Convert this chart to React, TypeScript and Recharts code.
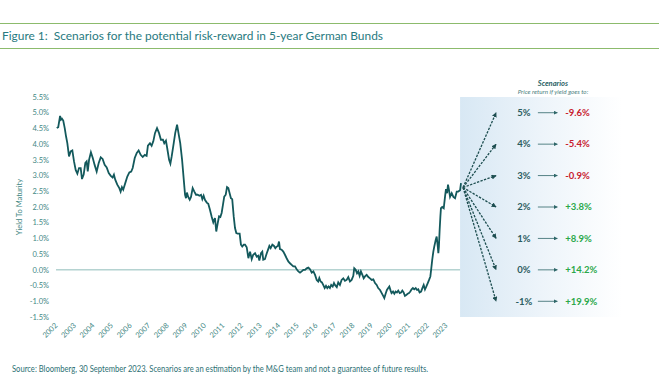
import React from 'react';
import { LineChart, Line, XAxis, YAxis, ReferenceLine, ReferenceArea, ReferenceDot } from 'recharts';

// ---- data ----
const yieldDates = [
  2002.04, 2002.12, 2002.22, 2002.27, 2002.32, 2002.39, 2002.47, 2002.54, 2002.61, 2002.70, 2002.79, 2002.88, 2002.97,
  2003.06, 2003.15, 2003.24, 2003.33, 2003.40, 2003.49, 2003.58, 2003.65, 2003.71, 2003.78, 2003.88, 2003.98,
  2004.08, 2004.19, 2004.30, 2004.41, 2004.51, 2004.62, 2004.73, 2004.84, 2004.95,
  2005.05, 2005.12, 2005.19, 2005.30, 2005.41, 2005.48, 2005.55, 2005.62, 2005.73, 2005.84, 2005.95,
  2006.05, 2006.13, 2006.24, 2006.35, 2006.45, 2006.56, 2006.67, 2006.78, 2006.88, 2006.95,
  2007.06, 2007.15, 2007.24, 2007.33, 2007.44, 2007.55, 2007.65, 2007.76, 2007.83, 2007.92, 2007.99,
  2008.09, 2008.16, 2008.23, 2008.34, 2008.42, 2008.52, 2008.61, 2008.69, 2008.79, 2008.88, 2008.95,
  2009.00, 2009.05, 2009.12, 2009.20, 2009.27, 2009.36, 2009.45, 2009.54, 2009.63, 2009.72, 2009.81, 2009.88, 2009.95,
  2010.02, 2010.12, 2010.20, 2010.29, 2010.38, 2010.47, 2010.56, 2010.63, 2010.71, 2010.78, 2010.85, 2010.92, 2010.99,
  2011.06, 2011.14, 2011.21, 2011.28, 2011.35, 2011.42, 2011.49, 2011.57, 2011.64, 2011.71, 2011.78, 2011.89, 2011.96,
  2012.03, 2012.11, 2012.18, 2012.27, 2012.36, 2012.45, 2012.54, 2012.62, 2012.72, 2012.81, 2012.89, 2012.95,
  2013.04, 2013.11, 2013.16, 2013.25, 2013.35, 2013.43, 2013.49, 2013.56, 2013.65, 2013.74, 2013.81, 2013.88, 2013.95,
  2014.01, 2014.06, 2014.15, 2014.24, 2014.33, 2014.42, 2014.51, 2014.60, 2014.69, 2014.78, 2014.87, 2014.96,
  2015.05, 2015.14, 2015.23, 2015.32, 2015.41, 2015.50, 2015.59, 2015.68, 2015.77, 2015.86, 2015.95,
  2016.04, 2016.12, 2016.18, 2016.25, 2016.32, 2016.39, 2016.47, 2016.54, 2016.61, 2016.68, 2016.75, 2016.82, 2016.90, 2016.97,
  2017.02, 2017.12, 2017.20, 2017.29, 2017.38, 2017.47, 2017.56, 2017.65, 2017.74, 2017.83, 2017.92,
  2018.01, 2018.06, 2018.14, 2018.21, 2018.28, 2018.35, 2018.42, 2018.50, 2018.57, 2018.64, 2018.73, 2018.82, 2018.91,
  2019.00, 2019.09, 2019.18, 2019.27, 2019.35, 2019.45, 2019.54, 2019.62, 2019.68, 2019.75, 2019.82, 2019.89, 2019.95,
  2020.02, 2020.07, 2020.15, 2020.22, 2020.29, 2020.36, 2020.43, 2020.51, 2020.58, 2020.65, 2020.72, 2020.79, 2020.86, 2020.94,
  2021.01, 2021.08, 2021.15, 2021.22, 2021.29, 2021.37, 2021.44, 2021.51, 2021.58, 2021.66, 2021.73, 2021.80, 2021.87, 2021.94,
  2022.02, 2022.09, 2022.16, 2022.21, 2022.26, 2022.32, 2022.37, 2022.45, 2022.50, 2022.56, 2022.59, 2022.62, 2022.66, 2022.70,
  2022.73, 2022.80, 2022.88, 2022.95,
  2023.00, 2023.06, 2023.11, 2023.16, 2023.22, 2023.31, 2023.40, 2023.49, 2023.58, 2023.66, 2023.76, 2023.81,
];

const yieldValues = [
  4.51, 4.54, 4.90, 4.78, 4.81, 4.75, 4.51, 4.25, 4.03, 3.61, 3.77, 3.80, 3.45,
  3.18, 3.06, 3.24, 3.24, 2.89, 3.03, 3.40, 3.45, 3.13, 3.50, 3.74, 3.56,
  3.34, 3.13, 3.40, 3.58, 3.53, 3.34, 3.26, 3.08, 2.99,
  2.94, 3.03, 2.87, 2.71, 2.60, 2.49, 2.63, 2.55, 2.76, 2.97, 3.10,
  3.13, 3.24, 3.56, 3.72, 3.80, 3.66, 3.59, 3.66, 3.63, 3.95,
  4.03, 3.95, 4.09, 4.35, 4.51, 4.35, 4.14, 4.14, 4.03, 4.11, 3.87,
  3.50, 3.38, 3.61, 4.03, 4.35, 4.62, 4.30, 4.03, 3.50, 2.87, 2.39,
  2.28, 2.46, 2.32, 2.23, 2.32, 2.60, 2.49, 2.39, 2.39, 2.36, 2.39, 2.25, 2.36,
  2.23, 2.14, 2.10, 1.91, 1.70, 1.51, 1.65, 1.22, 1.49, 1.70, 1.68, 1.81, 2.07,
  2.33, 2.39, 2.63, 2.60, 2.44, 2.28, 2.25, 1.70, 1.33, 1.17, 1.15, 1.15, 0.80,
  0.74, 0.80, 0.80, 0.72, 0.37, 0.58, 0.34, 0.48, 0.53, 0.42, 0.45, 0.30,
  0.53, 0.58, 0.32, 0.34, 0.53, 0.66, 0.76, 0.69, 0.80, 0.76, 0.69, 0.74, 0.76,
  0.90, 0.66, 0.64, 0.58, 0.48, 0.37, 0.27, 0.21, 0.16, 0.11, 0.11, 0.02,
  -0.05, -0.09, -0.05, 0.00, 0.00, 0.05, 0.07, 0.02, -0.09, -0.05, -0.16,
  -0.32, -0.37, -0.26, -0.37, -0.40, -0.48, -0.58, -0.51, -0.58, -0.53, -0.58, -0.48, -0.53, -0.42,
  -0.48, -0.55, -0.40, -0.48, -0.32, -0.27, -0.35, -0.32, -0.23, -0.37, -0.32,
  -0.19, 0.05, 0.00, -0.11, -0.05, -0.19, -0.05, -0.16, -0.27, -0.21, -0.16, -0.23, -0.27,
  -0.32, -0.30, -0.42, -0.48, -0.58, -0.64, -0.74, -0.83, -0.90, -0.76, -0.64, -0.58, -0.53,
  -0.66, -0.74, -0.69, -0.76, -0.69, -0.72, -0.66, -0.74, -0.72, -0.66, -0.72, -0.83, -0.80, -0.76,
  -0.74, -0.69, -0.62, -0.58, -0.62, -0.58, -0.64, -0.62, -0.72, -0.69, -0.58, -0.48, -0.62, -0.53,
  -0.42, -0.32, -0.21, 0.05, 0.32, 0.58, 0.74, 0.96, 1.06, 0.74, 0.53, 0.74, 1.27, 1.70,
  1.96, 2.00, 1.96, 2.33,
  2.57, 2.44, 2.71, 2.55, 2.32, 2.44, 2.32, 2.28, 2.49, 2.49, 2.53, 2.76,
];

const yearTicks = [
  2002, 2003, 2004, 2005, 2006, 2007, 2008, 2009, 2010, 2011, 2012,
  2013, 2014, 2015, 2016, 2017, 2018, 2019, 2020, 2021, 2022, 2023,
];
const yTicks = [-1.5, -1, -0.5, 0, 0.5, 1, 1.5, 2, 2.5, 3, 3.5, 4, 4.5, 5, 5.5];

const scenarioYields = [5, 4, 3, 2, 1, 0, -1];
const scenarioReturns = [-9.6, -5.4, -0.9, 3.8, 8.9, 14.2, 19.9];

const data = yieldDates.map((t, i) => ({ t, y: yieldValues[i] }));

// ---- layout (axis units) ----
const X_MIN = 2002;
const X_MAX = 2032.48;
const PANEL_START = 2023.76;
const ORIGIN_X = 2023.92;
const ORIGIN_Y = 2.62;
const ARROW_END_X = 2025.7;
const LABEL_X = 2027.2;
const SMALL_FROM = 2027.95;
const SMALL_TO = 2029.0;
const VALUE_X = 2029.42;
const PANEL_TITLE_X = 2028.76;

const FONT = 'Lato, "Open Sans", sans-serif';
const TEAL = '#3f8784';
const LINE = '#13595c';

const fmtPct = (v: number) => `${v.toFixed(1)}%`;
const fmtRet = (v: number) => `${v > 0 ? '+' : ''}${v.toFixed(1)}%`;

const XTick = (props: any) => {
  const { x, y, payload } = props;
  const ax = x + 2;
  const ay = y + 9;
  return (
    <text
      x={ax}
      y={ay}
      transform={`rotate(-45 ${ax} ${ay})`}
      textAnchor="end"
      fontSize={7.5}
      fill={TEAL}
      fontFamily={FONT}
    >
      {payload.value}
    </text>
  );
};

const YTick = (props: any) => {
  const { x, y, payload } = props;
  return (
    <text x={x} y={y} dy={2.7} textAnchor="end" fontSize={7.5} fill={TEAL} fontFamily={FONT}>
      {fmtPct(payload.value)}
    </text>
  );
};

export default function App() {
  return (
    <div
      style={{
        position: 'absolute',
        left: 0,
        top: 0,
        width: 659,
        height: 387,
        background: '#ffffff',
        overflow: 'hidden',
      }}
    >
      <div style={{ position: 'absolute', left: 0, top: 0 }}>
        <LineChart
          width={659}
          height={360}
          data={data}
          margin={{ top: 97, right: 37, bottom: 8, left: 16 }}
        >
          <defs>
            <linearGradient id="panelGrad" x1="0" y1="0" x2="1" y2="0">
              <stop offset="0%" stopColor="#d8e8f4" />
              <stop offset="50%" stopColor="#edf4fa" />
              <stop offset="100%" stopColor="#ffffff" />
            </linearGradient>
            <marker
              id="dashHead"
              viewBox="0 0 10 10"
              refX="9"
              refY="5"
              markerWidth="5"
              markerHeight="5"
              markerUnits="userSpaceOnUse"
              orient="auto"
            >
              <path d="M0,0 L10,5 L0,10 z" fill="#1d4e50" />
            </marker>
            <marker
              id="smallHead"
              viewBox="0 0 10 10"
              refX="9"
              refY="5"
              markerWidth="4"
              markerHeight="4"
              markerUnits="userSpaceOnUse"
              orient="auto"
            >
              <path d="M0,0 L10,5 L0,10 z" fill="#2e6668" />
            </marker>
          </defs>
          <XAxis
            dataKey="t"
            type="number"
            domain={[X_MIN, X_MAX]}
            allowDataOverflow
            ticks={yearTicks}
            interval={0}
            axisLine={false}
            tickLine={false}
            tickSize={0}
            tickMargin={0}
            height={35}
            tick={<XTick />}
          />
          <YAxis
            type="number"
            domain={[-1.5, 5.5]}
            ticks={yTicks}
            interval={0}
            allowDataOverflow
            axisLine={false}
            tickLine={false}
            tickSize={0}
            tickMargin={7}
            width={40}
            tick={<YTick />}
          />
          <ReferenceArea
            x1={PANEL_START}
            x2={X_MAX}
            y1={-1.5}
            y2={5.5}
            fill="url(#panelGrad)"
            fillOpacity={1}
            stroke="none"
            ifOverflow="visible"
          />
          <ReferenceLine
            segment={[
              { x: X_MIN, y: 0 },
              { x: PANEL_START, y: 0 },
            ]}
            stroke="#8fbcb9"
            strokeWidth={1}
            ifOverflow="visible"
          />
          <Line
            type="linear"
            dataKey="y"
            stroke={LINE}
            strokeWidth={1.8}
            dot={false}
            isAnimationActive={false}
          />
          <ReferenceDot
            x={PANEL_TITLE_X}
            y={5.5}
            r={0}
            ifOverflow="visible"
            shape={(p: any) => (
              <g>
                <text
                  x={p.cx}
                  y={p.cy - 11}
                  textAnchor="middle"
                  fontSize={7.5}
                  fontWeight={700}
                  fontStyle="italic"
                  fill="#2d6266"
                  fontFamily={FONT}
                >
                  Scenarios
                </text>
                <text
                  x={p.cx}
                  y={p.cy - 3}
                  textAnchor="middle"
                  fontSize={6.3}
                  fontStyle="italic"
                  fill="#4d7f82"
                  fontFamily={FONT}
                >
                  Price return if yield goes to:
                </text>
              </g>
            )}
          />
          {scenarioYields.map((lvl) => (
            <ReferenceLine
              key={`d${lvl}`}
              segment={[
                { x: ORIGIN_X, y: ORIGIN_Y },
                { x: ARROW_END_X, y: lvl },
              ]}
              ifOverflow="visible"
              shape={(p: any) => (
                <line
                  x1={p.x1}
                  y1={p.y1}
                  x2={p.x2}
                  y2={p.y2}
                  stroke="#1d4e50"
                  strokeWidth={1.3}
                  strokeDasharray="2.4 1.3"
                  markerEnd="url(#dashHead)"
                />
              )}
            />
          ))}
          {scenarioYields.map((lvl) => (
            <ReferenceLine
              key={`s${lvl}`}
              segment={[
                { x: SMALL_FROM, y: lvl },
                { x: SMALL_TO, y: lvl },
              ]}
              ifOverflow="visible"
              shape={(p: any) => (
                <line
                  x1={p.x1}
                  y1={p.y1}
                  x2={p.x2}
                  y2={p.y2}
                  stroke="#2e6668"
                  strokeWidth={0.8}
                  markerEnd="url(#smallHead)"
                />
              )}
            />
          ))}
          {scenarioYields.map((lvl) => (
            <ReferenceDot
              key={`l${lvl}`}
              x={LABEL_X}
              y={lvl}
              r={0}
              ifOverflow="visible"
              shape={(p: any) => (
                <text
                  x={p.cx}
                  y={p.cy}
                  dy={3.3}
                  textAnchor="middle"
                  fontSize={9.5}
                  fontWeight={700}
                  fill="#2a5c60"
                  fontFamily={FONT}
                >
                  {`${lvl}%`}
                </text>
              )}
            />
          ))}
          {scenarioYields.map((lvl, i) => (
            <ReferenceDot
              key={`v${lvl}`}
              x={VALUE_X}
              y={lvl}
              r={0}
              ifOverflow="visible"
              shape={(p: any) => (
                <text
                  x={p.cx}
                  y={p.cy}
                  dy={3.3}
                  textAnchor="start"
                  fontSize={9.5}
                  fontWeight={700}
                  fill={scenarioReturns[i] < 0 ? '#c8202e' : '#2aa84a'}
                  fontFamily={FONT}
                >
                  {fmtRet(scenarioReturns[i])}
                </text>
              )}
            />
          ))}
        </LineChart>
      </div>
      <svg
        width={659}
        height={387}
        style={{ position: 'absolute', left: 0, top: 0, pointerEvents: 'none' }}
      >
        <line x1={0} x2={659} y1={23.5} y2={23.5} stroke="#8cbb6c" strokeWidth={1} />
        <line x1={0} x2={659} y1={48.5} y2={48.5} stroke="#8cbb6c" strokeWidth={1} />
        <text
          x={2}
          y={40}
          fontSize={12}
          fill="#287a80"
          fontFamily={FONT}
          textLength={381}
          lengthAdjust="spacingAndGlyphs"
          style={{ whiteSpace: 'pre' }}
        >
          {'Figure 1:  Scenarios for the potential risk-reward in 5-year German Bunds'}
        </text>
        <text
          x={22}
          y={207}
          transform="rotate(-90 22 207)"
          textAnchor="middle"
          fontSize={7.5}
          fill={TEAL}
          fontFamily={FONT}
        >
          Yield To Maturity
        </text>
        <text
          x={12}
          y={372}
          fontSize={8.5}
          fill="#2c6f73"
          fontFamily={FONT}
          textLength={416}
          lengthAdjust="spacingAndGlyphs"
        >
          Source: Bloomberg, 30 September 2023. Scenarios are an estimation by the M&amp;G team and not a guarantee of future results.
        </text>
      </svg>
    </div>
  );
}
